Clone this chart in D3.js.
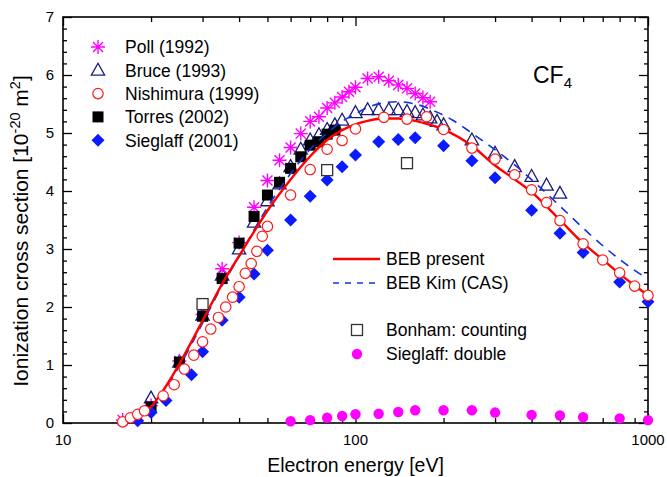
<!DOCTYPE html>
<html><head><meta charset="utf-8">
<script src="https://cdn.jsdelivr.net/npm/d3@7"></script>
<style>body{margin:0;background:#fff}svg{font-family:"Liberation Sans",Arial,sans-serif}</style>
</head><body><svg id="c" width="667" height="477"></svg>
<script>
// ---- data ----
const xTicksMajor = [10, 100, 1000];
const xTickLabels = ["10", "100", "1000"];
const yTicks = [0, 1, 2, 3, 4, 5, 6, 7];

const pollE = [16,20,25,30,35,40,45,50,55,60,65,70,75,80,85,90,95,100,110,120,130,140,150,160,170,180];
const pollS = [0.05,0.3,1.07,1.87,2.66,3.11,3.72,4.18,4.53,4.75,4.99,5.2,5.28,5.43,5.52,5.62,5.71,5.79,5.94,5.97,5.9,5.83,5.77,5.68,5.61,5.54];

const bruceE = [20,25,30,35,40,45,50,55,60,65,70,75,80,85,90,100,110,120,130,140,150,160,170,180,190,200,250,300,350,400,450,500];
const bruceS = [0.43,1.05,1.86,2.55,3.0,3.46,3.83,4.12,4.42,4.72,4.88,4.97,5.06,5.14,5.22,5.35,5.4,5.4,5.4,5.4,5.37,5.35,5.31,5.26,5.2,5.14,4.88,4.65,4.42,4.25,4.1,3.96];

const nishE = [16,17,18,19,22,24,26,28,30,32,34,36,38,40,42,44,46,48,50,60,70,80,90,100,125,150,175,200,250,300,350,400,450,500,600,700,800,900,1000];
const nishS = [0.02,0.09,0.15,0.21,0.47,0.66,0.93,1.17,1.4,1.62,1.82,2.0,2.17,2.35,2.58,2.75,2.96,3.22,3.39,3.93,4.37,4.72,4.87,5.07,5.27,5.24,5.28,5.06,4.74,4.55,4.28,4.02,3.8,3.49,3.09,2.81,2.59,2.36,2.2];

const torresE = [20,25,30,35,40,45,50,55,60,65,70,75,80,85];
const torresS = [0.28,1.05,1.84,2.49,3.1,3.56,3.93,4.15,4.39,4.59,4.79,4.85,4.98,5.05];

const siegE = [18,20,22.5,27.5,30,35,40,45,50,60,70,80,90,100,120,140,160,200,250,300,400,500,600,800,1000];
const siegS = [0.04,0.18,0.39,0.83,1.23,1.77,2.17,2.57,2.98,3.5,3.91,4.19,4.42,4.62,4.85,4.89,4.92,4.78,4.52,4.23,3.67,3.27,2.94,2.43,2.09];

const bonhamE = [30, 80, 150];
const bonhamS = [2.05, 4.36, 4.48];

const doubleE = [60,70,80,90,100,120,140,160,200,250,300,400,500,600,800,1000];
const doubleS = [0.03,0.05,0.09,0.12,0.15,0.16,0.19,0.22,0.22,0.22,0.18,0.14,0.13,0.10,0.08,0.05];

const bebE = [15.7,17,18,20,22,25,30,35,40,45,50,60,70,80,90,100,110,125,140,160,180,200,250,300,350,400,500,600,700,800,900,1000];
const bebS = [0,0.05,0.11,0.28,0.56,1.02,1.76,2.4,2.88,3.3,3.66,4.2,4.6,4.88,5.05,5.15,5.21,5.25,5.25,5.21,5.14,5.06,4.78,4.44,4.2,3.98,3.5,3.1,2.82,2.57,2.37,2.2];

const kimE = [15.7,18,20,25,30,35,40,45,50,60,70,80,90,100,110,125,140,160,190,215,240,275,350,420,500,650,800,1000];
const kimS = [0,0.08,0.25,0.98,1.72,2.37,2.87,3.33,3.72,4.3,4.72,5.0,5.2,5.33,5.44,5.52,5.54,5.5,5.36,5.22,5.06,4.85,4.45,4.1,3.74,3.2,2.82,2.48];

const legend1 = ["Poll (1992)", "Bruce (1993)", "Nishimura (1999)", "Torres (2002)", "Sieglaff (2001)"];
const legend2 = ["BEB present", "BEB Kim (CAS)", "Bonham: counting", "Sieglaff: double"];

// ---- layout ----
const L = 63, R = 648, T = 17, B = 423;
const svg = d3.select("#c");
const x = d3.scaleLog().domain([10, 1000]).range([L, R]);
const y = d3.scaleLinear().domain([0, 7]).range([B, T]);

const COL = {poll:"#ff00ff", bruce:"#1c1c7a", nish:"#ff1a1a", torres:"#000", sieg:"#0a1cff", red:"#ff0000", kim:"#1030e0", dbl:"#ff00ff"};

const minorX = [];
[10,100].forEach(d => { for (let k = 2; k <= 9; k++) minorX.push(d*k); });
const minorY = d3.range(0, 7.001, 0.2).filter(v => Math.abs(v - Math.round(v)) > 1e-6);

function styleAxis(g){ g.select(".domain").remove(); g.selectAll("line").attr("stroke","#000").attr("stroke-width",1.3); }

svg.append("g").attr("transform",`translate(0,${B})`).call(d3.axisBottom(x).tickValues(minorX).tickSize(-5).tickFormat("")).call(styleAxis);
svg.append("g").attr("transform",`translate(0,${B})`).call(d3.axisBottom(x).tickValues(xTicksMajor).tickSize(-9).tickFormat("")).call(styleAxis);
svg.append("g").attr("transform",`translate(0,${T})`).call(d3.axisTop(x).tickValues(minorX).tickSize(-5).tickFormat("")).call(styleAxis);
svg.append("g").attr("transform",`translate(0,${T})`).call(d3.axisTop(x).tickValues(xTicksMajor).tickSize(-9).tickFormat("")).call(styleAxis);
svg.append("g").attr("transform",`translate(${L},0)`).call(d3.axisLeft(y).tickValues(minorY).tickSize(-4).tickFormat("")).call(styleAxis);
svg.append("g").attr("transform",`translate(${L},0)`).call(d3.axisLeft(y).tickValues(yTicks).tickSize(-9).tickFormat("")).call(styleAxis);
svg.append("g").attr("transform",`translate(${R},0)`).call(d3.axisRight(y).tickValues(minorY).tickSize(-4).tickFormat("")).call(styleAxis);
svg.append("g").attr("transform",`translate(${R},0)`).call(d3.axisRight(y).tickValues(yTicks).tickSize(-9).tickFormat("")).call(styleAxis);

svg.append("rect").attr("x",L).attr("y",T).attr("width",R-L).attr("height",B-T).attr("fill","none").attr("stroke","#000").attr("stroke-width",1.6);

// tick labels
svg.append("g").selectAll("text").data(xTicksMajor).join("text")
  .attr("x", d => x(d)).attr("y", B + 22).attr("text-anchor","middle").attr("font-size",15).text((d,i)=>xTickLabels[i]);
svg.append("g").selectAll("text").data(yTicks).join("text")
  .attr("x", L - 9).attr("y", d => y(d)).attr("dy","0.36em").attr("text-anchor","end").attr("font-size",15).text(d=>d);

// axis titles
svg.append("text").attr("x",(L+R)/2).attr("y",472).attr("text-anchor","middle").attr("font-size",19.5).text("Electron energy [eV]");
const yt = svg.append("text").attr("transform","translate(28,231) rotate(-90)").attr("text-anchor","middle").attr("font-size",21);
yt.append("tspan").text("Ionization cross section [10");
yt.append("tspan").attr("font-size",14.5).attr("dy",-8).text("-20");
yt.append("tspan").attr("dy",8).text(" m");
yt.append("tspan").attr("font-size",14.5).attr("dy",-8).text("2");
yt.append("tspan").attr("dy",8).text("]");

// CF4
const cf = svg.append("text").attr("x",533).attr("y",83).attr("font-size",23);
cf.append("tspan").text("CF");
cf.append("tspan").attr("font-size",15).attr("dy",5).text("4");

// ---- marker helpers ----
function zipd(E,S){ return E.map((e,i)=>({e, s:S[i]})); }
function star(g, cx, cy, r, col){
  const p = `M${cx-r},${cy}H${cx+r}M${cx},${cy-r}V${cy+r}M${cx-r*0.72},${cy-r*0.72}L${cx+r*0.72},${cy+r*0.72}M${cx-r*0.72},${cy+r*0.72}L${cx+r*0.72},${cy-r*0.72}`;
  g.append("path").attr("d",p).attr("stroke",col).attr("stroke-width",1.4).attr("fill","none");
}
const triPath = (cx,cy,r)=>`M${cx},${cy-r}L${cx+r*0.95},${cy+r*0.7}L${cx-r*0.95},${cy+r*0.7}Z`;
const diaPath = (cx,cy,r)=>`M${cx},${cy-r}L${cx+r},${cy}L${cx},${cy+r}L${cx-r},${cy}Z`;

const gM = svg.append("g");

// Bruce triangles
gM.append("g").selectAll("path").data(zipd(bruceE,bruceS)).join("path")
  .attr("d", d=>triPath(x(d.e), y(d.s), 7)).attr("fill","none").attr("stroke",COL.bruce).attr("stroke-width",1.3);
// Poll stars
const gP = gM.append("g");
zipd(pollE,pollS).forEach(d=>star(gP, x(d.e), y(d.s), 7, COL.poll));
// Torres squares
gM.append("g").selectAll("rect").data(zipd(torresE,torresS)).join("rect")
  .attr("x", d=>x(d.e)-5.5).attr("y", d=>y(d.s)-5.5).attr("width",11).attr("height",11).attr("fill",COL.torres);
// Sieglaff diamonds
gM.append("g").selectAll("path").data(zipd(siegE,siegS)).join("path")
  .attr("d", d=>diaPath(x(d.e), y(d.s), 6.5)).attr("fill",COL.sieg);

// curves
const line = d3.line().x(d=>x(d.e)).y(d=>y(d.s)).curve(d3.curveMonotoneX);
svg.append("path").datum(zipd(kimE,kimS)).attr("d",line).attr("fill","none").attr("stroke",COL.kim).attr("stroke-width",1.6).attr("stroke-dasharray","9,7");
svg.append("path").datum(zipd(bebE,bebS)).attr("d",line).attr("fill","none").attr("stroke",COL.red).attr("stroke-width",2.4);

// Nishimura circles
svg.append("g").selectAll("circle").data(zipd(nishE,nishS)).join("circle")
  .attr("cx", d=>x(d.e)).attr("cy", d=>y(d.s)).attr("r",5.2).attr("fill","#fff").attr("stroke",COL.nish).attr("stroke-width",1.2);
// Bonham open squares
svg.append("g").selectAll("rect").data(zipd(bonhamE,bonhamS)).join("rect")
  .attr("x", d=>x(d.e)-5.5).attr("y", d=>y(d.s)-5.5).attr("width",11).attr("height",11).attr("fill","#fff").attr("stroke","#333").attr("stroke-width",1.3);
// double
svg.append("g").selectAll("circle").data(zipd(doubleE,doubleS)).join("circle")
  .attr("cx", d=>x(d.e)).attr("cy", d=>y(d.s)).attr("r",5.2).attr("fill",COL.dbl);

// ---- legends ----
const lg = svg.append("g").attr("font-size",17.5);
const ly = i => 47 + i*23.3;
star(lg, 98, ly(0), 7, COL.poll);
lg.append("path").attr("d", triPath(98, ly(1), 7)).attr("fill","none").attr("stroke",COL.bruce).attr("stroke-width",1.3);
lg.append("circle").attr("cx",98).attr("cy",ly(2)).attr("r",5.2).attr("fill","#fff").attr("stroke",COL.nish).attr("stroke-width",1.2);
lg.append("rect").attr("x",92.5).attr("y",ly(3)-5.5).attr("width",11).attr("height",11).attr("fill",COL.torres);
lg.append("path").attr("d", diaPath(98, ly(4), 6.5)).attr("fill",COL.sieg);
lg.selectAll("text").data(legend1).join("text").attr("x",125).attr("y",(d,i)=>ly(i)).attr("dy","0.36em").text(d=>d);

const lg2 = svg.append("g").attr("font-size",17.5);
lg2.append("line").attr("x1",333).attr("x2",380).attr("y1",259).attr("y2",259).attr("stroke",COL.red).attr("stroke-width",2.4);
lg2.append("line").attr("x1",333).attr("x2",380).attr("y1",283).attr("y2",283).attr("stroke",COL.kim).attr("stroke-width",1.6).attr("stroke-dasharray","6,6");
lg2.append("rect").attr("x",351.5).attr("y",324.5).attr("width",11).attr("height",11).attr("fill","#fff").attr("stroke","#333").attr("stroke-width",1.3);
lg2.append("circle").attr("cx",357).attr("cy",354).attr("r",5.2).attr("fill",COL.dbl);
const l2y = [259, 283, 330, 354];
lg2.selectAll("text").data(legend2).join("text").attr("x",386).attr("y",(d,i)=>l2y[i]).attr("dy","0.36em").text(d=>d);
</script></body></html>
